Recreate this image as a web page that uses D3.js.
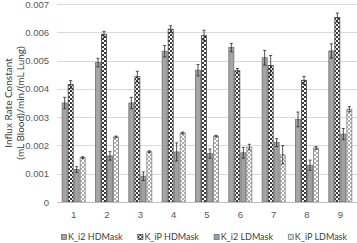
<!DOCTYPE html>
<html>
<head>
<meta charset="utf-8">
<title>Influx rate constant</title>
<style>

body {
  margin: 0;
  background-color: #fff;
  font-family: "Lato", "Open Sans", sans-serif;
}

svg {
  display: block;
}

.tick text {
  fill: #595959;
  font-size: 9.5px;
}

.legend text, .ytitle {
  fill: #404040;
}

</style>
</head>
<body>
<svg width="357" height="243"></svg>
<script src="https://d3js.org/d3.v7.min.js"></script>
<script>

var categories = ["1", "2", "3", "4", "5", "6", "7", "8", "9"];

var ki2HD    = [0.00350, 0.00493, 0.00350, 0.00533, 0.00466, 0.00546, 0.00510, 0.00292, 0.00534];
var ki2HDErr = [0.00020, 0.00015, 0.00020, 0.00020, 0.00020, 0.00015, 0.00026, 0.00026, 0.00025];
var kiPHD    = [0.00415, 0.00593, 0.00443, 0.00611, 0.00588, 0.00464, 0.00483, 0.00430, 0.00652];
var kiPHDErr = [0.00014, 0.00010, 0.00019, 0.00012, 0.00019, 0.00008, 0.00035, 0.00014, 0.00016];
var ki2LD    = [0.00115, 0.00163, 0.00091, 0.00177, 0.00171, 0.00174, 0.00210, 0.00130, 0.00240];
var ki2LDErr = [0.00010, 0.00015, 0.00015, 0.00032, 0.00016, 0.00019, 0.00014, 0.00018, 0.00020];
var kiPLD    = [0.00157, 0.00230, 0.00178, 0.00244, 0.00233, 0.00194, 0.00167, 0.00191, 0.00328];
var kiPLDErr = [0.00003, 0.00003, 0.00003, 0.00003, 0.00003, 0.00010, 0.00032, 0.00005, 0.00009];

var seriesNames = ["K_i2 HDMask", "K_iP HDMask", "K_i2 LDMask", "K_iP LDMask"];
var yTicks = [0, 0.001, 0.002, 0.003, 0.004, 0.005, 0.006, 0.007];
var yTitle = ["Influx Rate Constant", "(mL Blood)/min/(mL Lung)"];

var series = [
  { name: seriesNames[0], values: ki2HD, errs: ki2HDErr, fill: "#a5a5a5", stroke: "#6f6f6f" },
  { name: seriesNames[1], values: kiPHD, errs: kiPHDErr, fill: "url(#checkDark)", stroke: "#404040" },
  { name: seriesNames[2], values: ki2LD, errs: ki2LDErr, fill: "#a0a0a0", stroke: "#6f6f6f" },
  { name: seriesNames[3], values: kiPLD, errs: kiPLDErr, fill: "url(#checkLight)", stroke: "#808080" }
];

var svg = d3.select("svg");

// checker patterns
var defs = svg.append("defs");
function checker(id, c) {
  var p = defs.append("pattern")
      .attr("id", id)
      .attr("patternUnits", "userSpaceOnUse")
      .attr("width", 4)
      .attr("height", 4);
  p.append("rect").attr("width", 4).attr("height", 4).attr("fill", "#fff");
  p.append("rect").attr("width", 2).attr("height", 2).attr("fill", c);
  p.append("rect").attr("x", 2).attr("y", 2).attr("width", 2).attr("height", 2).attr("fill", c);
}
checker("checkDark", "#3a3a3a");
checker("checkLight", "#b0b0b0");

var plotL = 57, plotR = 357, plotT = 4, plotB = 202;

var x = d3.scaleBand()
    .domain(categories)
    .range([plotL, plotR])
    .paddingInner(0.28)
    .paddingOuter(0.14);

var xs = d3.scaleBand()
    .domain(seriesNames)
    .range([0, x.bandwidth()]);

var y = d3.scaleLinear()
    .domain([0, 0.007])
    .range([plotB, plotT]);

// gridlines
svg.append("g")
  .selectAll("line")
  .data(yTicks.slice(1))
  .enter().append("line")
    .attr("x1", plotL)
    .attr("x2", plotR)
    .attr("y1", function(d) { return Math.round(y(d)) + 0.5; })
    .attr("y2", function(d) { return Math.round(y(d)) + 0.5; })
    .attr("stroke", "#d9d9d9")
    .attr("stroke-width", 1);

// y axis labels
var yAxis = svg.append("g")
    .attr("transform", "translate(" + (plotL - 5) + ",0)")
    .call(d3.axisLeft(y)
      .tickValues(yTicks)
      .tickSize(0)
      .tickFormat(function(d) { return d === 0 ? "0" : d3.format(".3f")(d); }));
yAxis.select(".domain").remove();

// bars
var groups = svg.append("g")
  .selectAll("g")
  .data(series)
  .enter().append("g");

function rows(s) {
  return s.values.map(function(v, i) { return { s: s, cat: categories[i], v: v, e: s.errs[i] }; });
}

groups.selectAll("rect")
  .data(rows)
  .enter().append("rect")
    .attr("x", function(d) { return x(d.cat) + xs(d.s.name) + 0.5; })
    .attr("y", function(d) { return y(d.v); })
    .attr("width", xs.bandwidth() - 1)
    .attr("height", function(d) { return plotB - y(d.v); })
    .attr("fill", function(d) { return d.s.fill; })
    .attr("stroke", function(d) { return d.s.stroke; })
    .attr("stroke-width", 0.8);

// error bars
var errs = groups.selectAll("g.err")
  .data(rows)
  .enter().append("g")
    .attr("class", "err")
    .attr("stroke", "#262626")
    .attr("stroke-width", 0.8);

function cx(d) { return x(d.cat) + xs(d.s.name) + xs.bandwidth() / 2; }

errs.append("line")
  .attr("x1", cx).attr("x2", cx)
  .attr("y1", function(d) { return y(d.v + d.e); })
  .attr("y2", function(d) { return y(d.v - d.e); });
errs.append("line")
  .attr("x1", function(d) { return cx(d) - 1.5; })
  .attr("x2", function(d) { return cx(d) + 1.5; })
  .attr("y1", function(d) { return y(d.v + d.e); })
  .attr("y2", function(d) { return y(d.v + d.e); });
errs.append("line")
  .attr("x1", function(d) { return cx(d) - 1.5; })
  .attr("x2", function(d) { return cx(d) + 1.5; })
  .attr("y1", function(d) { return y(d.v - d.e); })
  .attr("y2", function(d) { return y(d.v - d.e); });

// x axis
var xAxis = svg.append("g")
    .attr("transform", "translate(0," + plotB + ")")
    .call(d3.axisBottom(x).tickSize(0).tickPadding(9));
xAxis.select(".domain")
    .attr("stroke", "#bfbfbf")
    .attr("d", "M" + plotL + ",0.5H" + plotR);

// y axis title, two rotated lines
svg.selectAll("text.ytitle")
  .data(yTitle)
  .enter().append("text")
    .attr("class", "ytitle")
    .attr("transform", function(d, i) {
      return "translate(" + (12 + i * 12) + "," + ((plotT + plotB) / 2) + ") rotate(-90)";
    })
    .attr("text-anchor", "middle")
    .style("font-size", "10px")
    .text(function(d) { return d; });

// legend
var legend = svg.append("g")
    .attr("class", "legend")
    .style("font-size", "9px");

var items = legend.selectAll("g")
  .data(series)
  .enter().append("g");

items.append("rect")
    .attr("x", 0.5)
    .attr("y", -5.5)
    .attr("width", 5)
    .attr("height", 5)
    .attr("fill", function(d) { return d.fill; })
    .attr("stroke", function(d) { return d.stroke; })
    .attr("stroke-width", 0.8);

items.append("text")
    .attr("x", 7)
    .attr("y", 0)
    .text(function(d) { return d.name; });

// spread items between the reference's left and right legend edges
var widths = [];
items.each(function() { widths.push(this.getBBox().width); });
var legL = 61, legR = 347;
var gap = (legR - legL - d3.sum(widths)) / (widths.length - 1);
var offs = [], p = legL;
widths.forEach(function(w) { offs.push(p); p += w + gap; });
items.attr("transform", function(d, i) { return "translate(" + offs[i] + ",240)"; });

</script>
</body>
</html>
